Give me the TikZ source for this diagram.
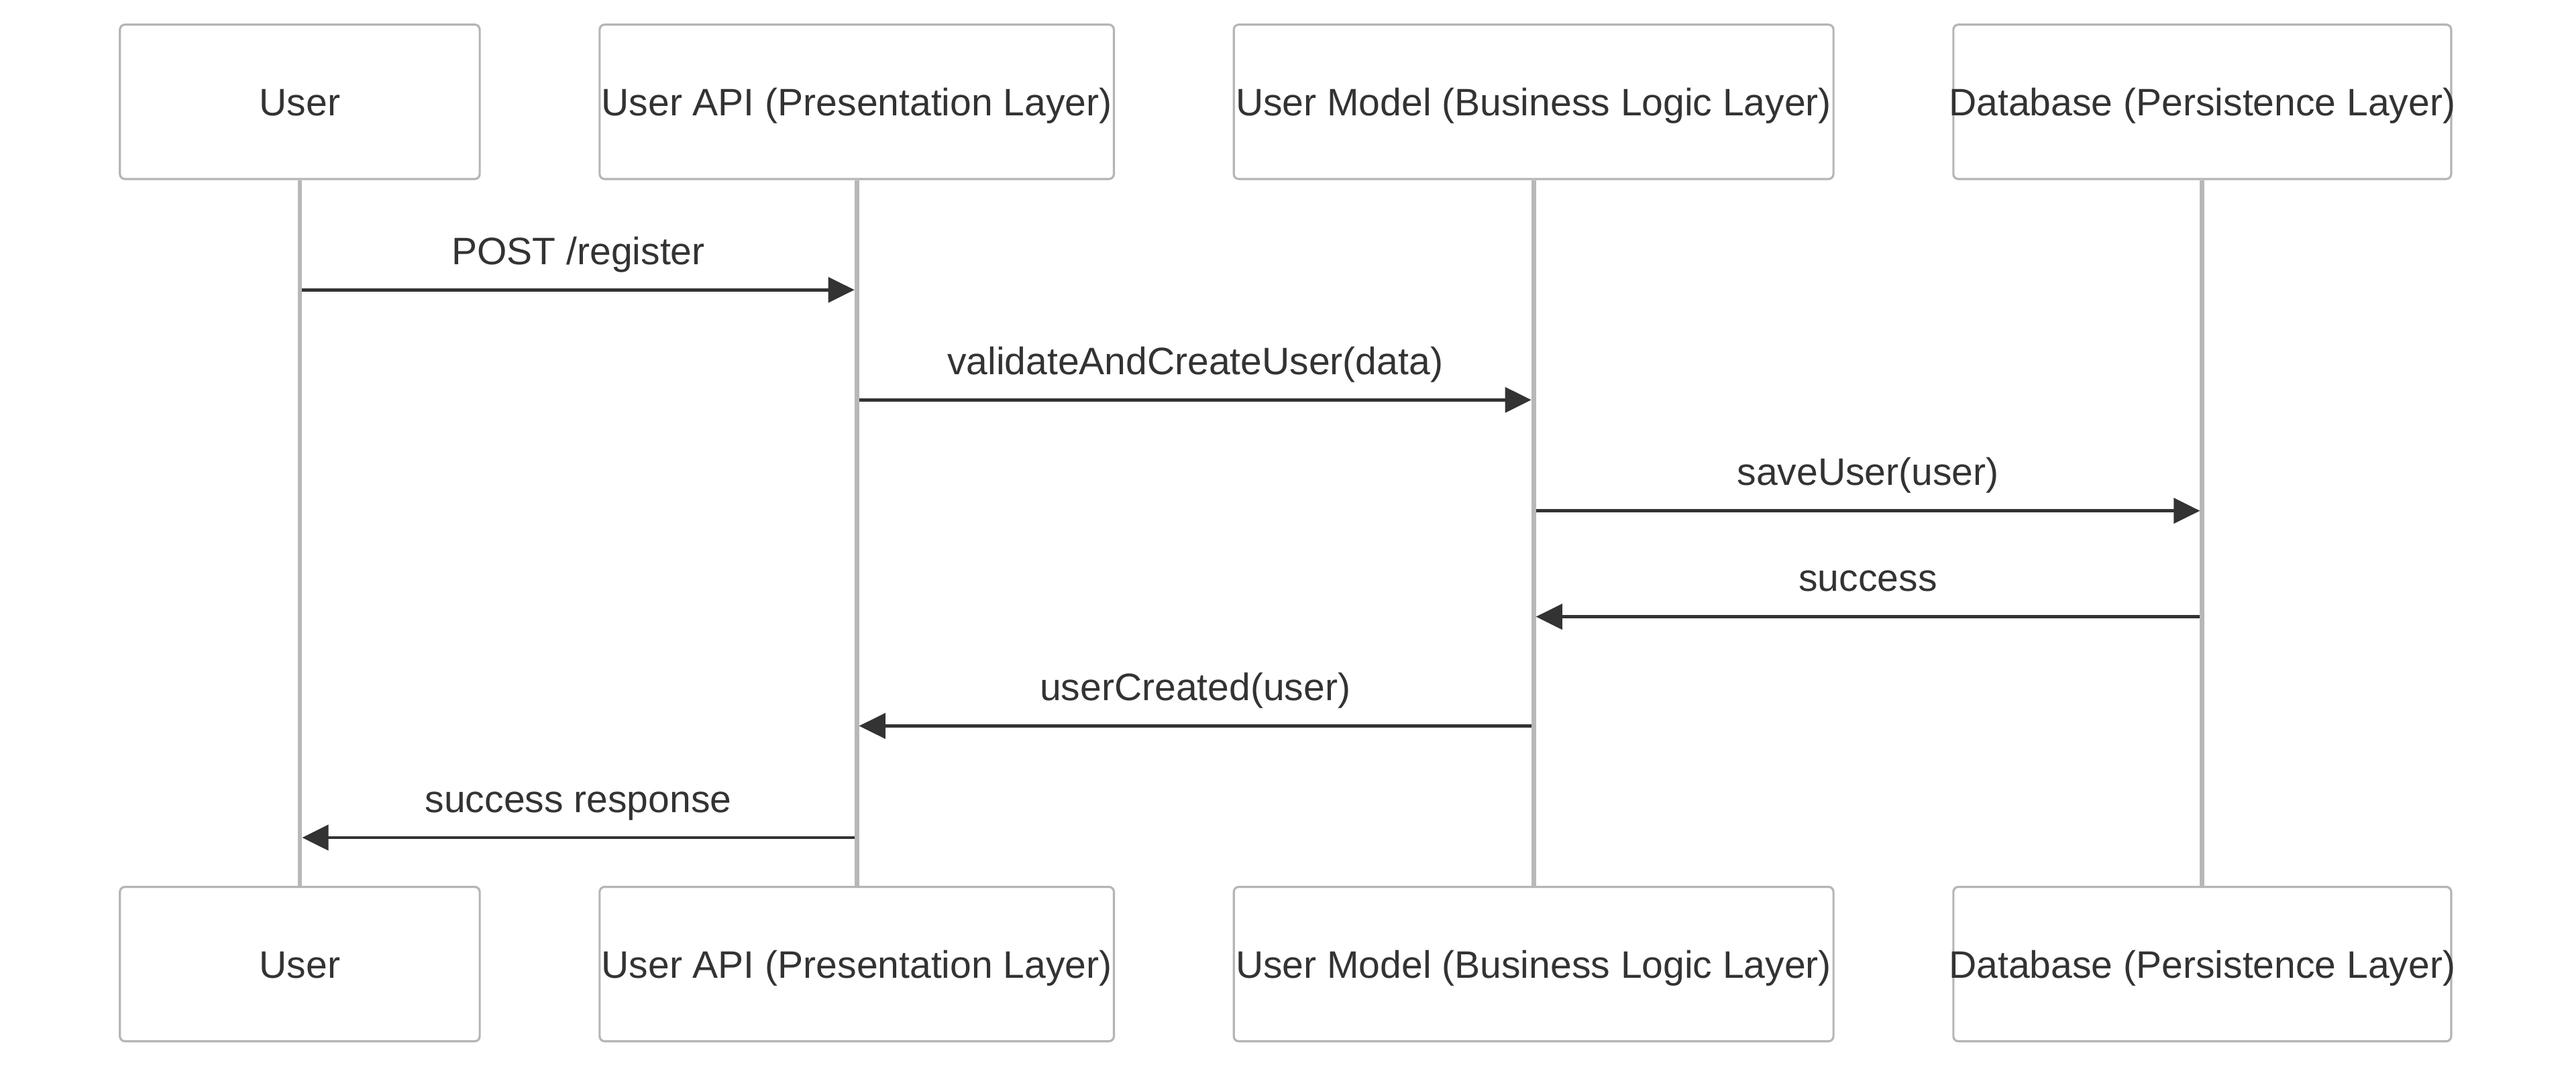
\documentclass[tikz,border=0pt]{standalone}
\usepackage{fontspec}
\setmainfont{Liberation Sans}
\usetikzlibrary{arrows.meta,calc}
\definecolor{ink}{HTML}{333333}
\definecolor{boxline}{HTML}{B5B5B5}
\definecolor{lifeline}{HTML}{B8B8B8}
\tikzset{
  actor/.style={draw=boxline,line width=1.3pt,fill=white,rounded corners=3pt,
    minimum height=94pt,inner sep=0pt},
  actortxt/.style={inner sep=0pt,text height=16.7pt,text depth=0pt,text=ink,font=\fontsize{23.3}{28}\selectfont},
  life/.style={draw=lifeline,line width=2.8pt},
  msg/.style={draw=ink,line width=2pt,-{Triangle[length=16pt,width=15.3pt]}},
  lbl/.style={anchor=base,yshift=15.5pt,text=ink,inner sep=0pt,font=\fontsize{23.3}{28}\selectfont}
}
\begin{document}
\begin{tikzpicture}[x=1pt,y=-1pt]
\useasboundingbox (0,0) rectangle (1568,652);

\node[actor,minimum width=219pt,label={[actortxt]center:User}] (usrT) at (182.5,62) {};
\node[actor,minimum width=313pt,label={[actortxt]center:{User API (Presentation Layer)}}] (apiT) at (521.5,62) {};
\node[actor,minimum width=365pt,label={[actortxt]center:{User Model (Business Logic Layer)}}] (modT) at (933.5,62) {};
\node[actor,minimum width=303pt,label={[actortxt]center:{Database (Persistence Layer)}}] (dbT) at (1340.5,62) {};

\node[actor,minimum width=219pt,label={[actortxt]center:User}] (usrB) at (182.5,587) {};
\node[actor,minimum width=313pt,label={[actortxt]center:{User API (Presentation Layer)}}] (apiB) at (521.5,587) {};
\node[actor,minimum width=365pt,label={[actortxt]center:{User Model (Business Logic Layer)}}] (modB) at (933.5,587) {};
\node[actor,minimum width=303pt,label={[actortxt]center:{Database (Persistence Layer)}}] (dbB) at (1340.5,587) {};

\draw[life] (usrT.south) -- (usrB.north);
\draw[life] (apiT.south) -- (apiB.north);
\draw[life] (modT.south) -- (modB.north);
\draw[life] (dbT.south) -- (dbB.north);

\draw[msg] ($(usrT.south |- 0,176.5)+(1.4,0)$) -- ($(apiT.south |- 0,176.5)+(-1.4,0)$) node[lbl,midway] {POST /register};
\draw[msg] ($(apiT.south |- 0,243.5)+(1.4,0)$) -- ($(modT.south |- 0,243.5)+(-1.4,0)$) node[lbl,midway] {validateAndCreateUser(data)};
\draw[msg] ($(modT.south |- 0,311)+(1.4,0)$) -- ($(dbT.south |- 0,311)+(-1.4,0)$) node[lbl,midway] {saveUser(user)};
\draw[msg] ($(dbT.south |- 0,375.5)+(-1.4,0)$) -- ($(modT.south |- 0,375.5)+(1.4,0)$) node[lbl,midway] {success};
\draw[msg] ($(modT.south |- 0,442)+(-1.4,0)$) -- ($(apiT.south |- 0,442)+(1.4,0)$) node[lbl,midway] {userCreated(user)};
\draw[msg] ($(apiT.south |- 0,510)+(-1.4,0)$) -- ($(usrT.south |- 0,510)+(1.4,0)$) node[lbl,midway] {success response};
\end{tikzpicture}
\end{document}
